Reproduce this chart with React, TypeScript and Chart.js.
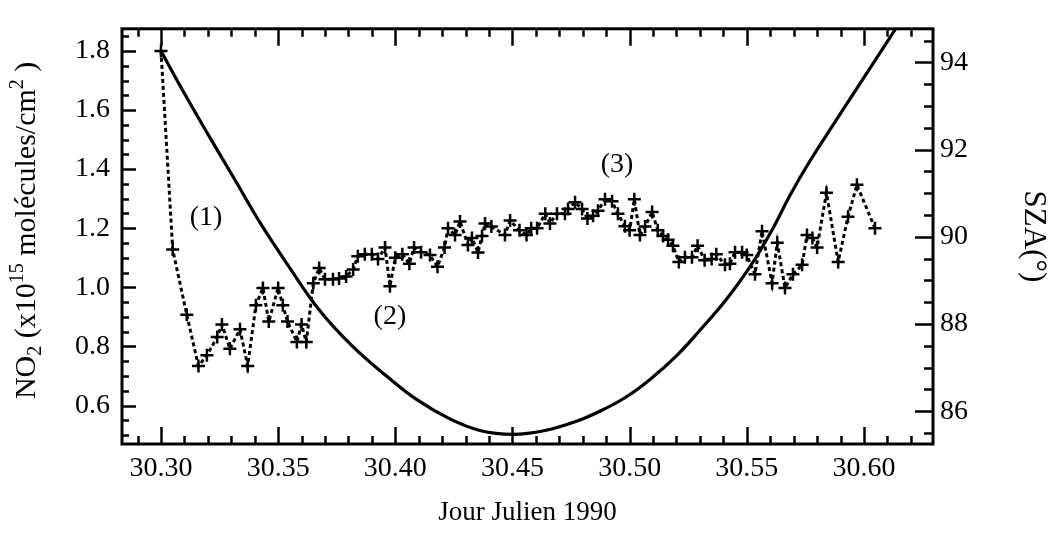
import React, { useEffect, useRef } from 'react';
import { Chart, registerables } from 'chart.js';

Chart.register(...registerables);

// NO2 slant columns (x10^15 molecules/cm2) vs Julian day
const no2Day = [
  30.3, 30.305, 30.311, 30.316, 30.3196, 30.324, 30.326, 30.3294, 30.3337, 30.337,
  30.3405, 30.3435, 30.346, 30.35, 30.352, 30.354, 30.358, 30.36, 30.362, 30.365,
  30.3675, 30.37, 30.3734, 30.376, 30.379, 30.382, 30.384, 30.387, 30.39, 30.3926,
  30.3956, 30.3977, 30.4, 30.403, 30.406, 30.408, 30.411, 30.4148, 30.418, 30.421,
  30.4225, 30.4255, 30.4276, 30.431, 30.4327, 30.4353, 30.437, 30.4383, 30.441, 30.4468,
  30.449, 30.453, 30.456, 30.458, 30.4605, 30.464, 30.466, 30.469, 30.4724, 30.4737,
  30.4767, 30.4797, 30.482, 30.4844, 30.4865, 30.4895, 30.4925, 30.495, 30.498, 30.5,
  30.502, 30.5044, 30.5066, 30.5096, 30.512, 30.5143, 30.5164, 30.5185, 30.521, 30.5236,
  30.5266, 30.529, 30.532, 30.535, 30.537, 30.5407, 30.5428, 30.545, 30.548, 30.55,
  30.5535, 30.5565, 30.5608, 30.563, 30.5663, 30.5697, 30.5736, 30.5757, 30.578, 30.58,
  30.584, 30.589, 30.5932, 30.597, 30.6047,
];
const no2Value = [
  1.8, 1.128, 0.907, 0.734, 0.77, 0.832, 0.874, 0.792, 0.858, 0.734,
  0.939, 0.998, 0.884, 0.998, 0.939, 0.884, 0.815, 0.874, 0.815, 1.014,
  1.065, 1.027, 1.027, 1.03, 1.037, 1.06, 1.105, 1.112, 1.112, 1.096,
  1.135, 1.004, 1.1, 1.112, 1.08, 1.135, 1.119, 1.109, 1.07, 1.135,
  1.2, 1.177, 1.223, 1.143, 1.167, 1.118, 1.174, 1.216, 1.206, 1.177,
  1.226, 1.193, 1.177, 1.2, 1.2, 1.249, 1.216, 1.249, 1.249, 1.265,
  1.288, 1.265, 1.233, 1.242, 1.259, 1.298, 1.291, 1.249, 1.207, 1.193,
  1.298, 1.177, 1.206, 1.255, 1.193, 1.174, 1.161, 1.141, 1.086, 1.102,
  1.102, 1.141, 1.092, 1.096, 1.112, 1.076, 1.08, 1.119, 1.119, 1.109,
  1.044, 1.19, 1.014, 1.151, 0.998, 1.044, 1.076, 1.177, 1.167, 1.135,
  1.32, 1.086, 1.239, 1.347, 1.2,
];

// Solar zenith angle (degrees)
const szaDay = [
  30.3, 30.3102, 30.3209, 30.3316, 30.3422, 30.3538, 30.3679, 30.3819, 30.3965, 30.4092,
  30.4233, 30.4361, 30.4502, 30.4639, 30.4767, 30.4873, 30.498, 30.5087, 30.5202, 30.53,
  30.5416, 30.5514, 30.5612, 30.5684, 30.577, 30.5876, 30.5983, 30.609, 30.6154,
];
const szaValue = [
  94.265, 93.271, 92.276, 91.304, 90.331, 89.381, 88.298, 87.481, 86.796, 86.265,
  85.823, 85.558, 85.47, 85.558, 85.757, 86.0, 86.309, 86.729, 87.282, 87.856,
  88.586, 89.315, 90.199, 90.95, 91.746, 92.63, 93.514, 94.398, 94.928,
];

const xTickValues = [30.3, 30.35, 30.4, 30.45, 30.5, 30.55, 30.6];
const leftTickValues = [0.6, 0.8, 1.0, 1.2, 1.4, 1.6, 1.8];
const rightTickValues = [86, 88, 90, 92, 94];

const noteText = ['(1)', '(2)', '(3)'];
const noteDay = [30.3192, 30.3977, 30.4946];
const noteNo2 = [1.236, 0.9, 1.415];

// left axis title pieces: [text, kind] where kind: n = normal, sub, sup
const leftTitleParts: [string, string][] = [
  ['NO', 'n'], ['2', 'sub'], [' (x10', 'n'], ['15', 'sup'], [' molécules/cm', 'n'], ['2', 'sup'], [' )', 'n'],
];

const FONT = "'Liberation Serif', 'Times New Roman', serif";

const framePlugin = {
  id: 'frame',
  afterDatasetsDraw(chart: any) {
    const { ctx, chartArea: a, scales } = chart;
    const x = scales.x;
    const yl = scales.y;
    const yr = scales.y2;
    ctx.save();
    ctx.strokeStyle = '#000';
    ctx.lineCap = 'butt';
    ctx.lineWidth = 2.5;
    ctx.beginPath();
    for (let i = 0; i <= 40; i++) {
      const v = 30.28 + i * 0.01;
      if (v < x.min || v > x.max) continue;
      const px = Math.round(x.getPixelForValue(v)) + 0.5;
      const major = Math.round(v * 100) % 5 === 0;
      const len = major ? 17 : 8;
      ctx.moveTo(px, a.bottom);
      ctx.lineTo(px, a.bottom - len);
      ctx.moveTo(px, a.top);
      ctx.lineTo(px, a.top + len);
    }
    for (let i = 0; i <= 40; i++) {
      const v = 0.4 + i * 0.05;
      if (v < yl.min || v > yl.max) continue;
      const py = Math.round(yl.getPixelForValue(v)) + 0.5;
      const major = Math.round(v * 100) % 20 === 0;
      const len = major ? 14 : 7;
      ctx.moveTo(a.left, py);
      ctx.lineTo(a.left + len, py);
    }
    for (let i = 0; i <= 24; i++) {
      const v = 84 + i * 0.5;
      if (v < yr.min || v > yr.max) continue;
      const py = Math.round(yr.getPixelForValue(v)) + 0.5;
      const major = Math.abs(v % 2) < 1e-6;
      const len = major ? 18 : 9;
      ctx.moveTo(a.right, py);
      ctx.lineTo(a.right - len, py);
    }
    ctx.stroke();
    ctx.lineWidth = 3;
    ctx.strokeRect(a.left, a.top, a.right - a.left, a.bottom - a.top);

    ctx.fillStyle = '#000';
    ctx.font = `28px ${FONT}`;
    ctx.textAlign = 'center';
    ctx.textBaseline = 'middle';
    noteText.forEach((t, i) => {
      ctx.fillText(t, x.getPixelForValue(noteDay[i]), yl.getPixelForValue(noteNo2[i]));
    });

    // left axis title (rotated, with sub/superscripts)
    const mainF = `30px ${FONT}`;
    const smallF = `20px ${FONT}`;
    let total = 0;
    leftTitleParts.forEach(([t, k]) => {
      ctx.font = k === 'n' ? mainF : smallF;
      total += ctx.measureText(t).width;
    });
    ctx.translate(35, (a.top + a.bottom) / 2 - 6);
    ctx.rotate(-Math.PI / 2);
    ctx.textAlign = 'left';
    ctx.textBaseline = 'alphabetic';
    let cx = -total / 2;
    leftTitleParts.forEach(([t, k]) => {
      ctx.font = k === 'n' ? mainF : smallF;
      const dy = k === 'sub' ? 6 : k === 'sup' ? -12 : 0;
      ctx.fillText(t, cx, dy);
      cx += ctx.measureText(t).width;
    });
    ctx.restore();
  },
};

export default function App() {
  const ref = useRef<HTMLCanvasElement>(null);

  useEffect(() => {
    if (!ref.current) return;
    const chart = new Chart(ref.current, {
      type: 'line',
      data: {
        datasets: [
          {
            label: 'NO2',
            data: no2Day.map((d, i) => ({ x: d, y: no2Value[i] })),
            yAxisID: 'y',
            borderColor: '#000',
            borderWidth: 3,
            borderDash: [4, 3],
            pointStyle: 'cross',
            pointRadius: 6.5,
            pointBorderWidth: 2.5,
            pointBorderColor: '#000',
            pointBackgroundColor: '#000',
            tension: 0,
            fill: false,
          },
          {
            label: 'SZA',
            data: szaDay.map((d, i) => ({ x: d, y: szaValue[i] })),
            yAxisID: 'y2',
            borderColor: '#000',
            borderWidth: 3.2,
            pointRadius: 0,
            tension: 0.4,
            fill: false,
          },
        ],
      },
      options: {
        animation: false,
        responsive: false,
        devicePixelRatio: 1,
        layout: { padding: { top: 13, left: 0, right: 0, bottom: 0 } },
        plugins: { legend: { display: false }, tooltip: { enabled: false } },
        scales: {
          x: {
            type: 'linear',
            min: 30.28336,
            max: 30.62947,
            grid: { display: false, drawTicks: false },
            border: { display: false },
            afterBuildTicks: (s: any) => {
              s.ticks = xTickValues.map((v) => ({ value: v }));
            },
            afterFit: (s: any) => {
              s.height = 96;
            },
            ticks: {
              color: '#000',
              padding: 8,
              maxRotation: 0,
              autoSkip: false,
              font: { family: FONT, size: 28 },
              callback: (v: any) => Number(v).toFixed(2),
            },
            title: {
              display: true,
              text: 'Jour Julien 1990',
              color: '#000',
              font: { family: FONT, size: 27 },
              padding: { top: 0, bottom: 11 },
            },
          },
          y: {
            type: 'linear',
            position: 'left',
            min: 0.4697,
            max: 1.875,
            grid: { display: false, drawTicks: false },
            border: { display: false },
            afterBuildTicks: (s: any) => {
              s.ticks = leftTickValues.map((v) => ({ value: v }));
            },
            afterFit: (s: any) => {
              s.width = 122;
            },
            ticks: {
              color: '#000',
              padding: 12,
              autoSkip: false,
              font: { family: FONT, size: 28 },
              callback: (v: any) => Number(v).toFixed(1),
            },
            title: { display: false },
          },
          y2: {
            type: 'linear',
            position: 'right',
            min: 85.248,
            max: 94.773,
            grid: { display: false, drawTicks: false },
            border: { display: false },
            afterBuildTicks: (s: any) => {
              s.ticks = rightTickValues.map((v) => ({ value: v }));
            },
            afterFit: (s: any) => {
              s.width = 120;
            },
            ticks: {
              color: '#000',
              padding: 7,
              autoSkip: false,
              font: { family: FONT, size: 28 },
              callback: (v: any) => String(Math.round(Number(v))),
            },
            title: {
              display: true,
              text: 'SZA(°)',
              color: '#000',
              font: { family: FONT, size: 31 },
              padding: { top: 1, bottom: 0 },
            },
          },
        },
      },
      plugins: [framePlugin],
    } as any);
    return () => chart.destroy();
  }, []);

  return (
    <div style={{ position: 'fixed', left: 0, top: 0, width: 1053, height: 540, background: '#fff' }}>
      <canvas ref={ref} width={1053} height={540} style={{ display: 'block', width: 1053, height: 540 }} />
    </div>
  );
}
